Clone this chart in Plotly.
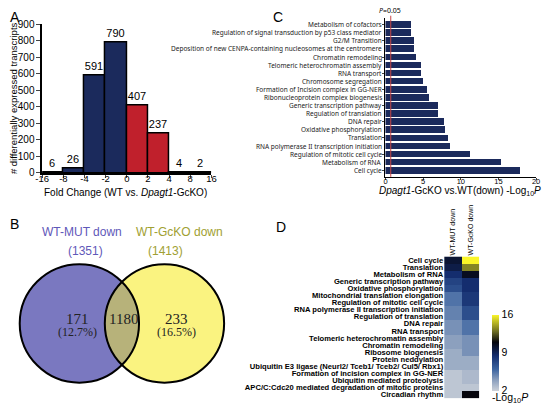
import numpy as np
import plotly.graph_objects as go

W, H = 546, 410
def px(x): return x / W
def py(y): return 1 - y / H

FONT = "Arial, Liberation Sans, sans-serif"
SMALL = "Noto Sans, DejaVu Sans, sans-serif"
SERIF = "Liberation Serif, Times New Roman, serif"

# ---------------- Panel A data ----------------
fc_ticks = ["-16", "-8", "-4", "-2", "0", "2", "4", "8", "16"]
fc_counts = [6, 26, 591, 790, 407, 237, 4, 2]
fc_group = ["down", "down", "down", "down", "up", "up", "up", "up"]

# ---------------- Panel B data ----------------
venn_names = ["WT-MUT down", "WT-GcKO down"]
venn_totals = [1351, 1413]
venn_only = [171, 233]
venn_overlap = 1180
venn_pct = ["12.7%", "16.5%"]

# ---------------- Panel C data ----------------
c_terms = [
    "Metabolism of cofactors",
    "Regulation of signal transduction by p53 class mediator",
    "G2/M Transition",
    "Deposition of new CENPA-containing nucleosomes at the centromere",
    "Chromatin remodeling",
    "Telomeric heterochromatin assembly",
    "RNA transport",
    "Chromosome segregation",
    "Formation of Incision complex in GG-NER",
    "Ribonucleoprotein complex biogenesis",
    "Generic transcription pathway",
    "Regulation of translation",
    "DNA repair",
    "Oxidative phosphorylation",
    "Translation",
    "RNA polymerase II transcription initiation",
    "Regulation of mitotic cell cycle",
    "Metabolism of RNA",
    "Cell cycle",
]
c_vals = [3.5, 3.5, 3.9, 3.9, 4.1, 4.8, 4.8, 5.0, 5.6, 5.9, 7.0, 7.0, 7.9, 8.0, 8.3, 8.6, 11.35, 15.4, 17.9]
c_xticks = [0, 5, 10, 15, 20]
c_pline = 0.7

# ---------------- Panel D data ----------------
d_terms = [
    "Cell cycle",
    "Translation",
    "Metabolism of RNA",
    "Generic transcription pathway",
    "Oxidative phosphorylation",
    "Mitochondrial translation elongation",
    "Regulation of mitotic cell cycle",
    "RNA polymerase II transcription initiation",
    "Regulation of translation",
    "DNA repair",
    "RNA transport",
    "Telomeric heterochromatin assembly",
    "Chromatin remodeling",
    "Ribosome biogenesis",
    "Protein neddylation",
    "Ubiquitin E3 ligase (Neurl2/ Tceb1/ Tceb2/ Cul5/ Rbx1)",
    "Formation of incision complex in GG-NER",
    "Ubiquitin mediated proteolysis",
    "APC/C:Cdc20 mediated degradation of mitotic proteins",
    "Circadian rhythm",
]
d_cols = ["WT-MUT down", "WT-GcKO down"]
d_mut = [10.0, 9.5, 8.5, 7.5, 7.0, 5.5, 5.5, 5.0, 5.0, 4.5, 4.5, 4.0, 4.0, 3.5, 3.5, 3.5, 2.5, 2.5, 2.5, 2.5]
d_gcko = [16.0, 13.5, 10.5, 8.5, 8.5, 8.0, 8.0, 7.0, 7.0, 5.5, 5.5, 4.5, 4.5, 4.5, 3.5, 3.5, 3.0, 3.0, 2.5, 11.0]
d_ticks = [2, 9, 16]

NAVY = "rgb(27,42,92)"
RED = "rgb(192,32,44)"

fig = go.Figure()

# Panel A bars
fig.add_trace(go.Bar(
    x=[i + 0.5 for i in range(len(fc_counts))], y=fc_counts, width=1,
    marker=dict(color=[NAVY if g == "down" else RED for g in fc_group],
                line=dict(color="black", width=1.5)),
    text=[str(v) for v in fc_counts], textposition="outside", constraintext="none",
    textfont=dict(size=11, color="black", family=FONT), cliponaxis=False,
    xaxis="x", yaxis="y", showlegend=False))

# Panel C bars
fig.add_trace(go.Bar(
    y=c_terms, x=c_vals, orientation="h", width=0.82,
    marker=dict(color=NAVY, line=dict(width=0)),
    xaxis="x2", yaxis="y2", showlegend=False))

# Panel D heatmap
cscale = [
    [0.0, "rgb(205,210,218)"],
    [(4 - 2) / 14, "rgb(140,160,190)"],
    [(6 - 2) / 14, "rgb(60,100,160)"],
    [(8.5 - 2) / 14, "rgb(20,45,110)"],
    [(11 - 2) / 14, "rgb(5,5,12)"],
    [(13 - 2) / 14, "rgb(110,110,35)"],
    [1.0, "rgb(250,245,40)"],
]
z = [[m, g] for m, g in zip(d_mut, d_gcko)]
fig.add_trace(go.Heatmap(
    z=z, x=d_cols, y=d_terms, zmin=2, zmax=16, colorscale=cscale,
    xaxis="x3", yaxis="y3",
    colorbar=dict(x=px(496), xanchor="left", y=py(357), yanchor="middle",
                  len=76, lenmode="pixels", thickness=7, thicknessmode="pixels",
                  xpad=0, ypad=0, outlinewidth=0, tickvals=d_ticks, ticks="",
                  tickfont=dict(size=10.5, family=FONT, color="black"))))

axis_common = dict(showgrid=False, zeroline=False)

fig.update_layout(
    width=W, height=H, margin=dict(l=0, r=0, t=0, b=0),
    paper_bgcolor="white", plot_bgcolor="rgba(0,0,0,0)",
    font=dict(family=FONT, color="black"),
    bargap=0,
    xaxis=dict(domain=[px(36), px(209)], range=[0, 8], tickvals=list(range(9)), ticktext=fc_ticks,
               ticks="outside", ticklen=3, tickwidth=1.2, showline=True, linecolor="black", linewidth=1.5,
               tickfont=dict(size=9.5), ticklabelstandoff=-7, **axis_common),
    yaxis=dict(domain=[py(172), py(19)], range=[0, 900], tickvals=list(range(0, 901, 100)),
               ticks="outside", ticklen=4, tickwidth=1.2, showline=True, linecolor="black", linewidth=1.5,
               tickfont=dict(size=10), **axis_common),
    xaxis2=dict(domain=[px(387), px(541)], range=[0, 20], tickvals=c_xticks,
                ticks="outside", ticklen=2, showline=True, linecolor="black", linewidth=1,
                tickfont=dict(size=7.5), ticklabelstandoff=-5, anchor="y2", **axis_common),
    yaxis2=dict(domain=[py(176), py(12.5)], autorange="reversed", ticks="outside", ticklen=2,
                showticklabels=False,
                showline=True, linecolor="black", linewidth=1.2,
                anchor="x2", **axis_common),
    xaxis3=dict(domain=[px(447), px(483)], side="top", tickangle=-90, ticks="",
                tickmode="array", tickvals=d_cols,
                tickfont=dict(size=7), anchor="y3", **axis_common),
    yaxis3=dict(domain=[py(404), py(258)], autorange="reversed", ticks="",
                tickmode="array", tickvals=d_terms,
                tickfont=dict(size=7.6, weight="bold"), anchor="x3", **axis_common),
)

# Panel C category labels
for t in c_terms:
    fig.add_annotation(x=px(385), xref="paper", y=t, yref="y2", text=t, showarrow=False,
                       xanchor="right", yanchor="middle",
                       font=dict(size=6.5, color="#222", family=SMALL))

# P = 0.05 line
fig.add_shape(type="line", xref="x2", yref="paper", x0=c_pline, x1=c_pline,
              y0=py(176), y1=py(10), line=dict(color="rgb(200,70,70)", width=1))

# Venn diagram
c1 = (74, 327); c2 = (161, 327); r = 61
fig.add_shape(type="circle", xref="paper", yref="paper",
              x0=px(c1[0] - r), x1=px(c1[0] + r), y0=py(c1[1] + r), y1=py(c1[1] - r),
              fillcolor="rgb(122,120,192)", line=dict(width=0), layer="above")
fig.add_shape(type="circle", xref="paper", yref="paper",
              x0=px(c2[0] - r), x1=px(c2[0] + r), y0=py(c2[1] + r), y1=py(c2[1] - r),
              fillcolor="rgb(250,243,128)", line=dict(width=0), layer="above")
d = c2[0] - c1[0]
a = d / 2
hh = np.sqrt(r ** 2 - a ** 2)
ang = np.arcsin(hh / r)
t1 = np.linspace(-ang, ang, 40)
pts = [(c1[0] + r * np.cos(t), c1[1] + r * np.sin(t)) for t in t1]
pts += [(c2[0] - r * np.cos(t), c2[1] - r * np.sin(t)) for t in t1]
path = "M " + " L ".join(f"{px(x):.5f},{py(y):.5f}" for x, y in pts) + " Z"
fig.add_shape(type="path", xref="paper", yref="paper", path=path,
              fillcolor="rgb(183,178,122)", line=dict(width=0), layer="above")
for c in (c1, c2):
    fig.add_shape(type="circle", xref="paper", yref="paper",
                  x0=px(c[0] - r), x1=px(c[0] + r), y0=py(c[1] + r), y1=py(c[1] - r),
                  line=dict(color="black", width=2), layer="above")


def ann(x, y, text, size, color="black", family=FONT, angle=0, xanchor="center"):
    fig.add_annotation(x=px(x), y=py(y), xref="paper", yref="paper", text=text, showarrow=False,
                       font=dict(size=size, color=color, family=family), textangle=angle,
                       xanchor=xanchor, yanchor="middle")

# Venn texts
ann(77, 233, venn_names[0], 12, "rgb(95,88,185)")
ann(176, 233, venn_names[1], 12, "rgb(160,160,50)")
ann(80, 252, f"({venn_totals[0]})", 12, "rgb(95,88,185)")
ann(162, 252, f"({venn_totals[1]})", 12, "rgb(160,160,50)")
ann(72, 322, str(venn_only[0]), 15, "#222", SERIF)
ann(72, 336, f"({venn_pct[0]})", 12, "#222", SERIF)
ann(119, 322, str(venn_overlap), 15, "#222", SERIF)
ann(173, 322, str(venn_only[1]), 15, "#222", SERIF)
ann(173, 336, f"({venn_pct[1]})", 12, "#222", SERIF)

# Axis titles / labels
ann(6, 95, "# differentially expressed transcripts", 9.5, angle=-90)
ann(121, 192, "Fold Change (WT vs. <i>Dpagt1</i>-GcKO)", 10)
ann(463, 191, "<i>Dpagt1</i>-GcKO vs.WT(down) -Log<sub>10</sub><i>P</i>", 10)
ann(392, 5, "<i>P</i>=0.05", 7, family=SMALL)
ann(514, 404, "-Log<sub>10</sub><i>P</i>", 10.5)

# Panel letters
ann(8, 11, "A", 14)
ann(8, 225, "B", 14)
ann(277, 11, "C", 14)
ann(280, 228, "D", 14)

fig.write_html("out.html", config={"displayModeBar": False},
               post_script="document.body.style.margin='0px';document.body.style.overflow='hidden';")
